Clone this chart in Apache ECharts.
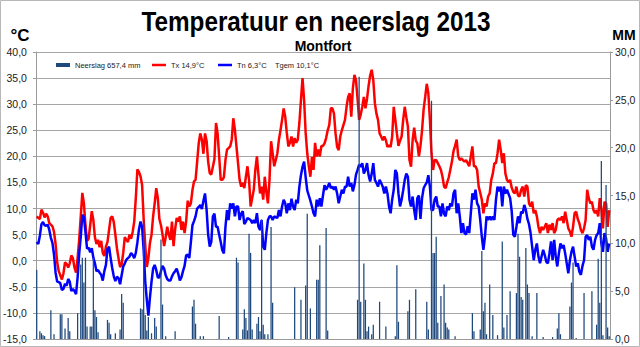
<!DOCTYPE html>
<html>
<head>
<meta charset="utf-8">
<script src="https://cdn.jsdelivr.net/npm/echarts@6/dist/echarts.min.js"></script>
<style>
html,body{margin:0;padding:0;background:#ffffff;}
#c{width:640px;height:347px;}
</style>
</head>
<body>
<div id="c"></div>
<script>
const chartTitle = 'Temperatuur en neerslag 2013';
const chartSubtitle = 'Montfort';
const leftAxisName = '°C';
const rightAxisName = 'MM';
const seriesNames = ['Neerslag 657,4 mm', 'Tx 14,9°C', 'Tn 6,3°C    Tgem 10,1°C'];

// tick labels
const leftTicks = ['-15,0','-10,0','-5,0','0,0','5,0','10,0','15,0','20,0','25,0','30,0','35,0','40,0'];
const rightTicks = ['0,0','5,0','10,0','15,0','20,0','25,0','30,0'];

// daily maximum temperature (°C), Jan..Dec
const tx = [
  8.5,8.2,8.0,9.8,9.2,8.3,9.0,8.5,7.2,6.9,6.6,5.5,3.2,-0.3,-2.0,-2.8,-3.6,-2.4,-0.3,-0.6,-1.3,-0.5,1.0,0.5,-1.3,-2.3,0.5,4.0,8.5,13.0,11.0,
  6.8,3.8,4.2,6.8,9.5,7.8,4.5,3.2,4.0,2.6,3.8,1.5,0.9,2.7,3.6,5.9,8.2,8.5,7.4,5.0,2.4,0.5,-1.2,-0.7,1.5,4.5,4.0,3.6,
  5.0,4.2,5.5,7.5,12,17.5,17,16.2,14.5,8,3,-1.2,0.5,3.4,5,8.5,11,13.9,12,8,6.8,5,2.8,4.5,6.5,5,4,7.5,2.8,6,8.2,
  7.5,8.5,5.9,7.5,5.3,7.5,11.5,10.4,11,13.5,15.2,15.5,19,22.5,24.4,23.2,20.5,24.4,23,19,16.8,16.5,18,19.5,26.4,24.4,20,15.5,15.5,16,
  19.3,21.3,21.6,21.9,23.2,27.3,25.1,21.9,18.7,15.5,14.2,14.9,13.9,16.1,18.1,15.5,10.4,12,13.6,17.4,20,16.4,12.9,14.2,11.7,16.1,13.2,11,15.5,22.9,20.6,
  18.1,19.3,20.6,23.2,25,27,29.2,27.6,24.5,21.9,22.6,23.8,21.9,23.5,22.6,23.2,26.4,30.8,35,30.8,24.5,20.6,18.1,16.1,19.9,17.4,22.6,20,21.3,20,
  22,22,22.5,23.5,25,26,29.2,29.2,28.2,24.4,21.8,21.2,23.8,25,26,27,29.5,31.4,32.1,27.6,33,35.6,34.6,31,27,28,29.5,31.4,29.2,31,33.5,
  35.5,36.6,34.6,30.2,28.2,27,24.4,23.8,23.1,23.8,23.1,21.8,22.1,21.8,23.8,29.5,27,24.4,22,23,23.8,27,29.5,27.5,25.7,19.3,18,23.1,25.5,23,22.5,
  20,22,25,29,31.4,33.9,32.1,27,20.6,17.4,19.3,19.3,18.7,18.1,17.4,16.1,14.2,13.9,15,16,17.5,19,21,22,23.2,20,19.3,19.6,19.3,19,
  19.3,18.7,18.1,20,21.9,18.1,18.1,17.4,14.2,13,11.7,9.1,11,10.4,12.3,12.9,15.5,16.7,18.7,18.7,20.6,23.2,21.3,18.7,20.6,16.7,15.5,15,15.5,14,13.2,
  12.9,14.2,12.5,12.3,13.6,14.2,12.3,14.5,14.2,11,10.4,11.3,9.1,9.7,8.5,6.5,5.3,6.5,5.9,6.5,7.2,5.3,6.9,5.9,7.2,5.3,5.9,7.8,8.1,7.8,
  8.5,7.2,9.4,7.8,6.2,5.6,4.6,6.5,9.1,9.4,8,7.2,5.9,5.3,6.2,7.8,13.6,12,11,11.3,9.7,9.1,9.7,8.5,12,10,6.2,11.3,11,6.5,9.7
];

// daily minimum temperature (°C), Jan..Dec
const tn = [
  3.6,3.2,4.8,7.0,7.4,6.8,6.7,6.9,5.9,4.4,3.4,1.2,-2.3,-4.0,-4.1,-4.3,-5.6,-5.4,-4.4,-4.8,-3.5,-4.0,-5.8,-5.4,-5.8,-6.4,-3.2,1.3,4.6,8.8,8.4,
  5.5,2.3,2.5,1.6,2.4,0.6,-0.5,-2.0,-1.8,-2.3,-2.7,-3.8,-2.0,-0.8,2.3,2.7,0.5,-1.4,-3.0,-3.9,-3.1,-3.3,-4.5,-2.8,-1.1,-0.5,0.2,0.5,
  0.8,1.5,1.1,0.5,1.5,3.5,6,7.5,6.5,2,-4,-7.5,-10.5,-7,-4,-1.5,-0.8,-1.8,-3.2,-3.2,-2,-1,-1.5,-2.8,-3.5,-3.8,-3.8,-3,-2.4,-2,-1.5,
  -2.5,-3.8,-3.2,-2,-1,1,1.2,0.5,3.5,6.8,7.6,8.5,10,10.3,10.7,9.9,11.5,12.9,9.8,5,2.7,3.6,8.5,9,6.5,6.5,5,3.6,2,1.4,
  6.5,9.7,7.8,11,10,11,8.5,10.4,10.4,7.8,9,9.5,7,7.5,8.2,8,7.8,7.2,7.8,7.2,9.1,6.5,5.9,7.8,2.7,2.1,5.3,7.8,8.5,8.5,7.8,
  8.5,8.3,8.2,9.7,8.5,10.4,11.7,11,9.1,11,9.7,11.9,10.4,9.7,11.7,11,14.2,16.4,18,19,16,13.5,12.5,11.5,10.4,9.1,8.5,11.7,10.4,12,
  10.4,12.5,14.5,13.6,14.2,14.9,13.9,14.2,13.6,14.2,12.9,11,12.3,13.6,12.9,14.2,14.2,16.1,14.2,14.9,13.3,14.5,16.5,17.4,18.4,18,18.7,16.7,17.4,18.7,16.4,
  15.2,16.7,18.7,15.5,14.9,14.2,15.5,14.9,14.2,12.9,14.2,12.9,10.4,9.1,11.7,13.6,17.4,16.7,12.9,10.4,11.7,13.5,15.5,16.7,16.1,11.7,10.4,12.3,9.7,7.8,12,
  12.5,8,12,13.9,14.5,15,16.4,14.2,9.7,9.7,11.7,12.3,10.4,10.4,8.5,11,9,8.5,10.4,9.7,11,10.4,12.9,13.6,9.1,11,8.5,5.3,7.2,5.3,
  5,6.6,5.3,9.1,12.9,11.7,13.6,11,10.4,7.8,4.6,2.1,4.6,8.5,7.8,8.5,7.8,8.5,7.8,11.7,14.2,13.3,14.2,10.4,14.2,12.9,13.6,12.8,12,9.5,5,
  4.6,6.5,8.5,7.2,9.4,9.1,10.7,9.7,8,7,5.3,2.7,0.1,2.1,3.3,0.8,-0.5,0.8,2.1,1.1,-0.2,-0.5,1.4,3.7,0.1,4,0.8,-1.1,1.4,3.3,
  2.4,3,1.4,-0.5,-2.4,0.1,1.7,2.7,0.8,-1.1,-0.5,-2.1,-2.7,-1,0.1,4.6,4.9,4,4.6,2.7,2.1,4,4.9,5.3,7.2,3.3,1.7,5.3,4.3,1.7,3.3
];

// daily precipitation (mm), Jan..Dec
const rain = [
  7.2,0,0.8,0.6,0.4,0.3,0,0,0,3.0,0,0.5,0,0,0,2.6,2.6,0,1.1,0,2.2,0.8,0,0,0,0,2.7,0,7.8,8.5,5.9,
  8.5,1.3,0,1.3,1.3,8.5,3.0,2.3,0.7,0,0,0,0,0,2.0,1.7,0.5,0,0,0.6,0,0,1.0,4.7,3.8,0,0,0,
  0,0,0,0,0,0,0,3.2,3.1,12.4,2.5,0.9,2.3,0,0.6,0,2.2,1.3,0,0,10.4,3.6,0,0.3,0,0,0,0,0,0.8,0,
  0,0,0,0,0,0,0,0,0,3.4,4.1,1.6,0,0,0.3,0,0.3,0,0,0,0,0,0,0,0,0,2.4,0,0,0,
  0,0,0.2,0,0,0,0,8.5,8.0,0,0,1.0,3.1,2.2,0.9,11.0,9.0,1.0,0,0,1.6,2.3,0.8,12.5,1.5,0.5,0,0.5,0,11.7,3.8,
  0,0,0,0,0,0,0,0,0,0,0,0,0,5.4,0,0,0,4.1,0,0,5.6,13.1,0,3.2,0,0,0,6.2,6.2,9.8,
  0,0,0,11.6,0.9,0,0,0,0,0,0,0,0,0,0,0,0,0,0,0,0,0,0,4.1,27.4,3.9,0,7.9,4.1,0.8,1.3,
  0,0.5,1.5,0,0,0,3.9,0,0,0,1.3,0,0,0,0,0,0.3,7.7,1.8,0,0,0,0,0,2.9,4.1,0,0,0,5.2,0,
  0,0,0,0,0,3.9,1.0,0,24.9,9.0,9.0,10.7,1.7,0,4.5,0,5.7,1.7,1.2,1.0,0,0,0,0.3,0,0,0,0,0,0,
  0,0,0,0,2.7,0.8,0,0,0,1.0,9.2,2.9,3.8,0.5,0,5.7,0,2.5,0,0,0.4,0,0,10.2,1.2,0,2.5,0,5.0,0,0,
  0,4.8,11.0,8.6,4.4,4.1,0,9.5,5.7,4.8,0,0.3,0,0,4.8,0,0,0,0.2,0,0,0,0,0,0.2,0,0,1.1,2.7,0.5,
  0,0,0,0,0,3.4,5.9,8.0,0,0.1,0,0,0,0,4.8,0,0,0,0,5.0,0,0,1.5,8.4,3.8,18.6,0.4,0,16.1,1.2,0.3
];

// categories: the days of 2013
const days = [];
for (let i = 0; i < tx.length; i++) {
  const d = new Date(Date.UTC(2013, 0, 1 + i));
  days.push(d.getUTCDate() + '-' + (d.getUTCMonth() + 1));
}

const FONT = '"Liberation Sans", Arial, sans-serif';
const GRID_COLOR = '#a6a6a6';
const AXIS_COLOR = '#9a9a9a';

const chart = echarts.init(document.getElementById('c'), null, {renderer: 'svg'});
chart.setOption({
  animation: false,
  backgroundColor: '#ffffff',
  textStyle: {fontFamily: FONT},
  grid: {left: 32, right: 30, top: 52, bottom: 8, containLabel: false},
  legend: [
    {data: [seriesNames[0]], left: 56, top: 61, padding: 0, icon: 'rect', itemWidth: 14, itemHeight: 4,
     selectedMode: false, textStyle: {fontSize: 7.5, color: '#1a1a1a', fontFamily: FONT}},
    {data: [seriesNames[1]], left: 152, top: 61, padding: 0, icon: 'rect', itemWidth: 14, itemHeight: 2.5,
     selectedMode: false, textStyle: {fontSize: 7.5, color: '#1a1a1a', fontFamily: FONT}},
    {data: [seriesNames[2]], left: 218, top: 61, padding: 0, icon: 'rect', itemWidth: 14, itemHeight: 2.5,
     selectedMode: false, textStyle: {fontSize: 7.5, color: '#1a1a1a', fontFamily: FONT}}
  ],
  xAxis: {
    type: 'category', data: days, boundaryGap: true,
    axisLine: {show: true, onZero: false, lineStyle: {color: AXIS_COLOR}},
    axisTick: {show: false}, axisLabel: {show: false}, splitLine: {show: false}
  },
  yAxis: [
    {
      type: 'value', min: -15, max: 40, interval: 5, position: 'left',
      axisLine: {show: true, lineStyle: {color: AXIS_COLOR}},
      axisTick: {show: true, length: 3, lineStyle: {color: AXIS_COLOR}},
      splitLine: {show: true, lineStyle: {color: GRID_COLOR, width: 1}},
      axisLabel: {margin: 9, fontSize: 10.5, color: '#1a1a1a', fontFamily: FONT,
        formatter: v => leftTicks[Math.round((v + 15) / 5)]}
    },
    {
      type: 'value', min: 0, max: 30, interval: 5, position: 'right',
      axisLine: {show: true, lineStyle: {color: AXIS_COLOR}},
      axisTick: {show: true, length: 3, lineStyle: {color: AXIS_COLOR}},
      splitLine: {show: false},
      axisLabel: {margin: 5, fontSize: 10.5, color: '#1a1a1a', fontFamily: FONT,
        formatter: v => rightTicks[Math.round(v / 5)]}
    }
  ],
  series: [
    {name: seriesNames[1], type: 'line', yAxisIndex: 0, data: tx, symbol: 'none',
     lineStyle: {color: '#ff0000', width: 2.5}, itemStyle: {color: '#ff0000'}, z: 2},
    {name: seriesNames[2], type: 'line', yAxisIndex: 0, data: tn, symbol: 'none',
     lineStyle: {color: '#0000ff', width: 2.5}, itemStyle: {color: '#0000ff'}, z: 2},
    {name: seriesNames[0], type: 'bar', yAxisIndex: 1, data: rain, barWidth: '80%',
     itemStyle: {color: '#1f497d'}, z: 3}
  ],
  graphic: [
    {type: 'rect', silent: true, z: 0, shape: {x: 0.5, y: 0.5, width: 639, height: 346},
     style: {fill: 'none', stroke: '#b8b8b8', lineWidth: 1}},
    {type: 'text', silent: true, x: 316, y: 22, scaleX: 0.9,
     style: {text: chartTitle, fontSize: 27, fontWeight: 'bold', fontFamily: FONT, fill: '#000000',
             align: 'center', verticalAlign: 'middle'}},
    {type: 'text', silent: true, x: 323, y: 45.5,
     style: {text: chartSubtitle, fontSize: 14, fontWeight: 'bold', fontFamily: FONT, fill: '#000000',
             align: 'center', verticalAlign: 'middle'}},
    {type: 'text', silent: true, x: 20, y: 35.5,
     style: {text: leftAxisName, fontSize: 17, fontWeight: 'bold', fontFamily: FONT, fill: '#000000',
             align: 'center', verticalAlign: 'middle'}},
    {type: 'text', silent: true, x: 624, y: 35,
     style: {text: rightAxisName, fontSize: 14, fontWeight: 'bold', fontFamily: FONT, fill: '#000000',
             align: 'center', verticalAlign: 'middle'}}
  ]
});
</script>
</body>
</html>
